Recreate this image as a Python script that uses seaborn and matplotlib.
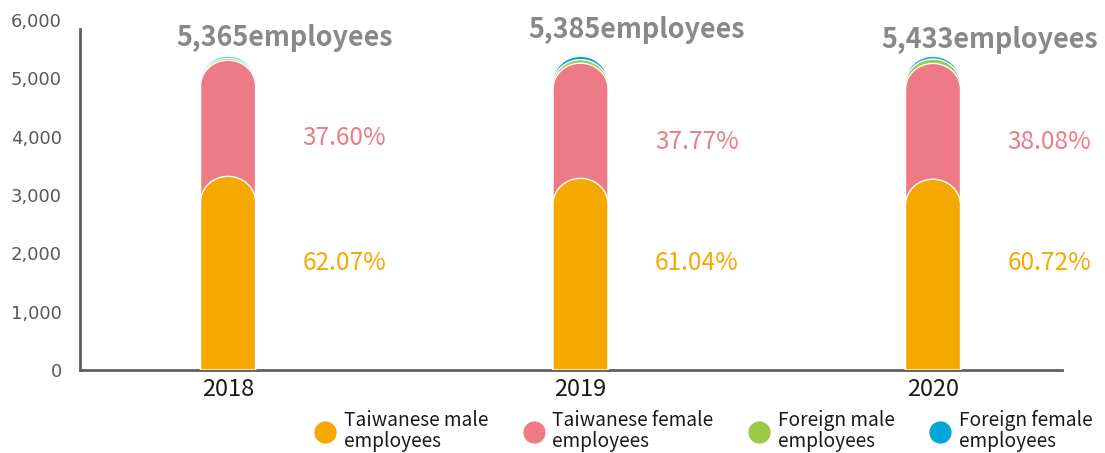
import numpy as np
import pandas as pd
import matplotlib
matplotlib.use("Agg")
import matplotlib.pyplot as plt
import seaborn as sns
from matplotlib.path import Path
from matplotlib.patches import PathPatch
from matplotlib.lines import Line2D
from matplotlib.ticker import FuncFormatter

# ---- data (segment heights) ----
years = ["2018", "2019", "2020"]
tw_male = [3320, 3285, 3270]
tw_female = [1990, 1975, 1985]
foreign_male = [35, 60, 75]
foreign_female = [35, 60, 50]
totals = [5365, 5385, 5433]
male_pct = ["62.07%", "61.04%", "60.72%"]
female_pct = ["37.60%", "37.77%", "38.08%"]
series_names = ["Taiwanese male\nemployees", "Taiwanese female\nemployees",
                "Foreign male\nemployees", "Foreign female\nemployees"]
colors = ["#F5A800", "#EE7A86", "#9DC94A", "#00A6DA"]
y_ticks = [0, 1000, 2000, 3000, 4000, 5000, 6000]

# ---- style ----
sns.set_theme(style="white")
CJK = ["Noto Sans CJK TC", "DejaVu Sans"]
plt.rcParams["font.family"] = CJK

fig = plt.figure(figsize=(11.05, 4.53), dpi=100)
ax = fig.add_axes([80 / 1105, 1 - 370 / 453, (1062 - 80) / 1105, (370 - 20) / 453])

# cumulative layers, drawn from tallest to shortest
layers = [
    np.array(tw_male) + np.array(tw_female) + np.array(foreign_male) + np.array(foreign_female),
    np.array(tw_male) + np.array(tw_female) + np.array(foreign_male),
    np.array(tw_male) + np.array(tw_female),
    np.array(tw_male),
]
layer_colors = [colors[3], colors[2], colors[1], colors[0]]

BAR_W = 0.156
DOME_H = 440  # data units


def dome_path(x0, w, h, dh):
    xc = x0 + w / 2
    a = w / 2
    k = 0.5523
    y_s = h - dh
    verts = [
        (x0, 0), (x0, y_s),
        (x0, y_s + k * dh), (xc - k * a, h), (xc, h),
        (xc + k * a, h), (x0 + w, y_s + k * dh), (x0 + w, y_s),
        (x0 + w, 0), (x0, 0),
    ]
    codes = [Path.MOVETO, Path.LINETO,
             Path.CURVE4, Path.CURVE4, Path.CURVE4,
             Path.CURVE4, Path.CURVE4, Path.CURVE4,
             Path.LINETO, Path.CLOSEPOLY]
    return Path(verts, codes)


z = 2
for vals, col in zip(layers, layer_colors):
    n0 = len(ax.patches)
    df = pd.DataFrame({"year": years, "value": vals})
    sns.barplot(data=df, x="year", y="value", color=col, width=BAR_W,
                saturation=1, ax=ax, errorbar=None)
    new = list(ax.patches)[n0:]
    for p in new:
        x0, w, h = p.get_x(), p.get_width(), p.get_height()
        p.remove()
        pp = PathPatch(dome_path(x0, w, h, DOME_H), facecolor=col,
                       edgecolor="white", lw=1.0, zorder=z)
        ax.add_patch(pp)
    z += 1

# ---- annotations ----
title_y = [5690, 5830, 5660]
female_lab_y = [3977, 3909, 3909]
for i in range(len(years)):
    ax.text(i + 0.16, title_y[i], f"{totals[i]:,}employees", ha="center", va="center",
            fontsize=19.4, fontweight="bold", color="#888888", family=CJK, zorder=10)
    ax.text(i + 0.33, female_lab_y[i], female_pct[i], ha="center", va="center",
            fontsize=17.6, color=colors[1], family=CJK)
    ax.text(i + 0.33, 1834, male_pct[i], ha="center", va="center",
            fontsize=17.6, color=colors[0], family=CJK)

# ---- axes ----
ax.set_xlim(-0.42, 2.366)
ax.set_ylim(0, 6000)
ax.set_yticks(y_ticks)
ax.yaxis.set_major_formatter(FuncFormatter(lambda v, p: f"{int(v):,}"))
ax.set_xlabel("")
ax.set_ylabel("")
ax.tick_params(axis="y", length=0, pad=13, labelsize=13, labelcolor="#595959")
ax.tick_params(axis="x", length=0, pad=6, labelsize=17, labelcolor="#1a1a1a")
for lab in ax.get_yticklabels():
    lab.set_family("DejaVu Sans")
for lab in ax.get_xticklabels():
    lab.set_family(CJK)
for s in ["top", "right"]:
    ax.spines[s].set_visible(False)
for s in ["left", "bottom"]:
    ax.spines[s].set_color("#5f5f5f")
    ax.spines[s].set_linewidth(2)
ax.spines["left"].set_bounds(0, 5850)
ax.grid(False)

# ---- legend ----
handles = [Line2D([0], [0], marker="o", linestyle="", markersize=15,
                  markerfacecolor=c, markeredgecolor=c) for c in colors]
leg = fig.legend(handles, series_names, loc="center left",
                 bbox_to_anchor=(315 / 1105, 1 - 431 / 453), ncol=4, frameon=False,
                 handlelength=1.05, handletextpad=0.45,
                 columnspacing=1.85, borderpad=0, borderaxespad=0,
                 prop={"family": CJK, "size": 13.8})
for t in leg.get_texts():
    t.set_linespacing(1.05)
    t.set_color("#1a1a1a")

fig.savefig("out.png", dpi=100)
